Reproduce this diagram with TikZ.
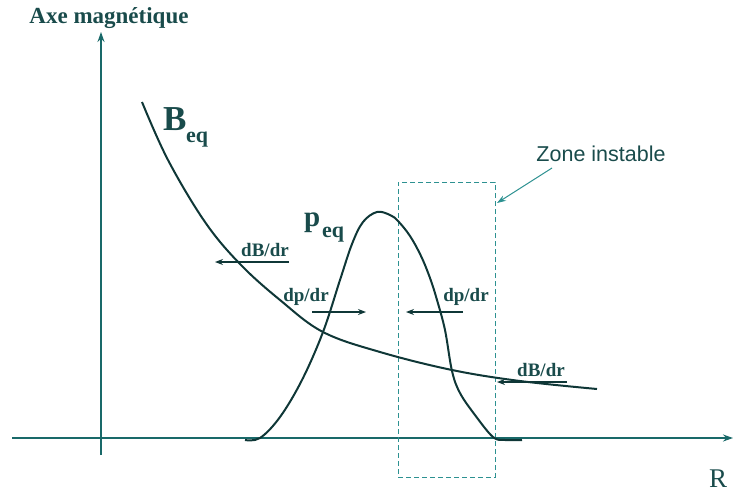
\documentclass[tikz,border=0pt]{standalone}
\usepackage{fontspec}
\setmainfont{Liberation Serif}
\newfontfamily\arialfont{Liberation Sans}
\usetikzlibrary{arrows.meta}
\definecolor{axiscol}{RGB}{25,105,105}
\definecolor{curvecol}{RGB}{15,55,55}
\definecolor{textcol}{RGB}{25,75,75}
\definecolor{dashcol}{RGB}{45,145,145}
\tikzset{
  axisline/.style={draw=axiscol, line width=2.2pt, -{Stealth[length=10pt,width=7pt]}},
  curveline/.style={draw=curvecol, line width=2pt, smooth, tension=0.6},
  deriv/.style={draw=curvecol, line width=1.2pt, -{Stealth[length=8pt,width=6pt]}},
  dlabel/.style={text=textcol, font=\fontsize{19}{21}\selectfont\bfseries, inner sep=0pt},
  biglabel/.style={text=textcol, inner sep=0pt, anchor=base west},
  zonebox/.style={draw=dashcol, line width=1pt, dash pattern=on 5pt off 3pt},
}
\begin{document}
\begin{tikzpicture}[x=1pt,y=-1pt]
\useasboundingbox (0,0) rectangle (734,493);
% axes
\coordinate (ybot) at (101,455);
\coordinate (ytop) at (101,32);
\coordinate (xleft) at (12,438);
\coordinate (xright) at (733,438);
\draw[axisline] (ybot) -- (ytop);
\draw[axisline] (xleft) -- (xright);
\node[text=textcol, font=\fontsize{23}{26}\selectfont\bfseries, inner sep=0pt] (axetitle) at (109,18) {Axe magnétique};
\node[text=textcol, font=\fontsize{27}{30}\selectfont, inner sep=0pt] (rlabel) at (718,479) {R};
% dashed zone
\node[zonebox, minimum width=97pt, minimum height=295pt, inner sep=0pt] (zone) at (446.5,329.5) {};
\node[text=textcol, font=\arialfont\fontsize{21.5}{24}\selectfont, inner sep=0pt] (zonelabel) at (601,154) {Zone instable};
\coordinate (zonetip) at (497,203);
\draw[draw=dashcol, line width=1pt, -{Stealth[length=9pt,width=6pt]}] (552,168) -- (zonetip);
% B curve
\draw[curveline] plot coordinates {(142,102) (168,160) (205,222) (240,264) (280,300) (323,332) (380,352) (452,370) (520,381) (597,389)};
% p curve
\draw[curveline] plot coordinates {(245,440) (260,438) (280,417) (302,380) (323,332) (340,280) (352,244) (363,222) (377,212) (390,215) (398,221) (410,236) (421,256) (430,278) (437,300) (445,330) (452,371) (460,393) (475,415) (493,437) (505,440) (522,440)};
% labels
\node[biglabel, font=\fontsize{35}{38}\selectfont\bfseries] (blabel) at (163,130) {B};
\node[biglabel, font=\fontsize{22}{24}\selectfont\bfseries] (beq) at (186,142) {eq};
\node[biglabel, font=\fontsize{29}{31}\selectfont\bfseries] (plabel) at (304,226) {p};
\node[biglabel, font=\fontsize{22}{24}\selectfont\bfseries] (peq) at (322,237) {eq};
% derivative arrows
\node[dlabel] (db1) at (265,250) {dB/dr};
\coordinate (db1s) at (289,262);
\coordinate (db1e) at (215,262);
\draw[deriv] (db1s) -- (db1e);
\node[dlabel] (dp1) at (306,297) {dp/dr};
\coordinate (dp1s) at (312,312);
\coordinate (dp1e) at (366,312);
\draw[deriv] (dp1s) -- (dp1e);
\node[dlabel] (dp2) at (466,297) {dp/dr};
\coordinate (dp2s) at (463,312);
\coordinate (dp2e) at (406,312);
\draw[deriv] (dp2s) -- (dp2e);
\node[dlabel] (db2) at (541,370) {dB/dr};
\coordinate (db2s) at (567,382);
\coordinate (db2e) at (497,382);
\draw[deriv] (db2s) -- (db2e);
\end{tikzpicture}
\end{document}
